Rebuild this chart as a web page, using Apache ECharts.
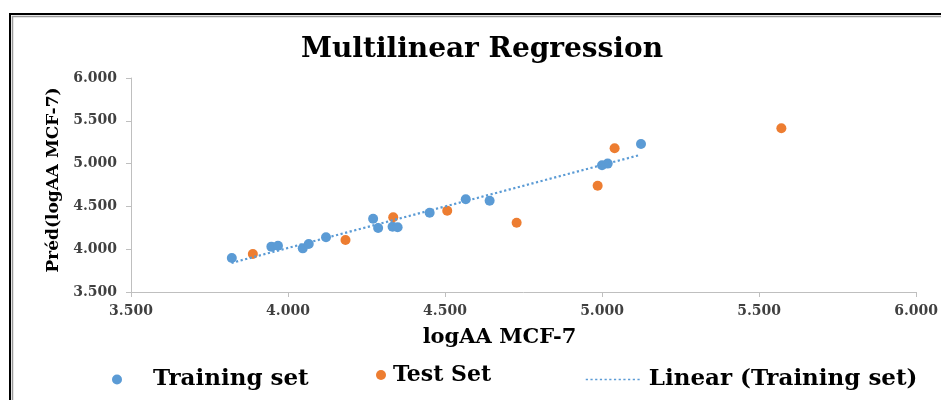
<!DOCTYPE html>
<html>
<head>
<meta charset="utf-8">
<script src="https://cdn.jsdelivr.net/npm/echarts@6/dist/echarts.min.js"></script>
<style>
html,body{margin:0;padding:0;background:#fff;}
#chart{width:941px;height:400px;}
</style>
</head>
<body>
<div id="chart"></div>
<script>
// Training set (observed logAA MCF-7, predicted)
const trainX = [3.821, 3.947, 3.968, 4.047, 4.066, 4.121, 4.271, 4.287, 4.333, 4.349, 4.451, 4.566, 4.642, 5.000, 5.018, 5.124];
const trainY = [3.897, 4.030, 4.040, 4.010, 4.060, 4.139, 4.356, 4.248, 4.263, 4.256, 4.426, 4.583, 4.567, 4.980, 5.000, 5.229];
// Test set
const testX = [3.888, 4.183, 4.335, 4.507, 4.728, 4.986, 5.040, 5.571];
const testY = [3.944, 4.107, 4.373, 4.450, 4.310, 4.742, 5.179, 5.412];
// Linear trendline (Training set) end points
const trendX = [3.82, 5.12];
const trendY = [3.84, 5.10];
// Axis ticks
const axisMin = 3.5, axisMax = 6.0, axisStep = 0.5;

const serif = '"DejaVu Serif", "Liberation Serif", serif';
const blue = '#5B9BD5', orange = '#ED7D31';

const chart = echarts.init(document.getElementById('chart'), null, {renderer: 'canvas'});
const zip = (xs, ys) => xs.map((x, i) => [x, ys[i]]);
const legendText = {fontFamily: serif, fontWeight: 'bold', fontSize: 22, color: '#000'};

chart.setOption({
  backgroundColor: '#fff',
  animation: false,
  title: {
    text: 'Multilinear Regression',
    left: 482, top: 36, textAlign: 'center', padding: 0,
    textStyle: {fontFamily: serif, fontWeight: 'bold', fontSize: 28, color: '#000'}
  },
  grid: {left: 131, right: 23, top: 78, bottom: 108, containLabel: false},
  xAxis: {
    type: 'value', min: axisMin, max: axisMax, interval: axisStep,
    name: 'logAA MCF-7', nameLocation: 'middle', nameGap: 35,
    nameTextStyle: {fontFamily: serif, fontWeight: 'bold', fontSize: 21, color: '#000', padding: [0, 48, 0, 0]},
    axisLine: {lineStyle: {color: '#BFBFBF', width: 1}},
    axisTick: {show: true, length: 5, lineStyle: {color: '#BFBFBF'}},
    axisLabel: {margin: 12, fontFamily: serif, fontWeight: 'bold', fontSize: 14, color: '#404040',
      formatter: v => v.toFixed(3)},
    splitLine: {show: false}
  },
  yAxis: {
    type: 'value', min: axisMin, max: axisMax, interval: axisStep,
    name: 'Préd(logAA MCF-7)', nameLocation: 'middle', nameGap: 61,
    nameTextStyle: {fontFamily: serif, fontWeight: 'bold', fontSize: 17, color: '#000', padding: [0, 0, 0, 10]},
    axisLine: {show: true, lineStyle: {color: '#BFBFBF', width: 1}},
    axisTick: {show: true, length: 5, lineStyle: {color: '#BFBFBF'}},
    axisLabel: {margin: 14, fontFamily: serif, fontWeight: 'bold', fontSize: 14, color: '#404040',
      formatter: v => v.toFixed(3)},
    splitLine: {show: false}
  },
  legend: [
    {data: [{name: 'Training set', icon: 'circle'}], left: 112, top: 368, itemWidth: 10, itemHeight: 10, itemGap: 0, padding: 0,
      textStyle: Object.assign({padding: [0, 0, 0, 26]}, legendText, {fontSize: 23})},
    {data: [{name: 'Test Set', icon: 'circle'}], left: 376, top: 364, itemWidth: 10, itemHeight: 10, itemGap: 0, padding: 0,
      textStyle: Object.assign({padding: [0, 0, 0, 2]}, legendText)},
    {data: [{name: 'Linear (Training set)', itemStyle: {opacity: 0}}], left: 585, top: 368, itemWidth: 54, itemHeight: 10, itemGap: 0, padding: 0,
      lineStyle: {width: 1.5},
      textStyle: Object.assign({padding: [0, 0, 0, 4]}, legendText, {fontSize: 23})}
  ],
  series: [
    {name: 'Training set', type: 'scatter', data: zip(trainX, trainY), symbolSize: 10,
      itemStyle: {color: blue, opacity: 1}, z: 3},
    {name: 'Test Set', type: 'scatter', data: zip(testX, testY), symbolSize: 10,
      itemStyle: {color: orange, opacity: 1}, z: 3},
    {name: 'Linear (Training set)', type: 'line', data: zip(trendX, trendY), symbol: 'none',
      lineStyle: {color: blue, width: 2.2, type: [2.2, 2.5]}, itemStyle: {color: blue}, z: 4, silent: true}
  ],
  graphic: [
    {type: 'rect', shape: {x: 10, y: 14, width: 960, height: 420}, style: {fill: 'none', stroke: '#000', lineWidth: 2}, silent: true},
    {type: 'polyline', shape: {points: [[12.5, 420], [12.5, 16.5], [960, 16.5]]}, style: {fill: 'none', stroke: '#9a9a9a', lineWidth: 1.5}, silent: true}
  ]
});
</script>
</body>
</html>
